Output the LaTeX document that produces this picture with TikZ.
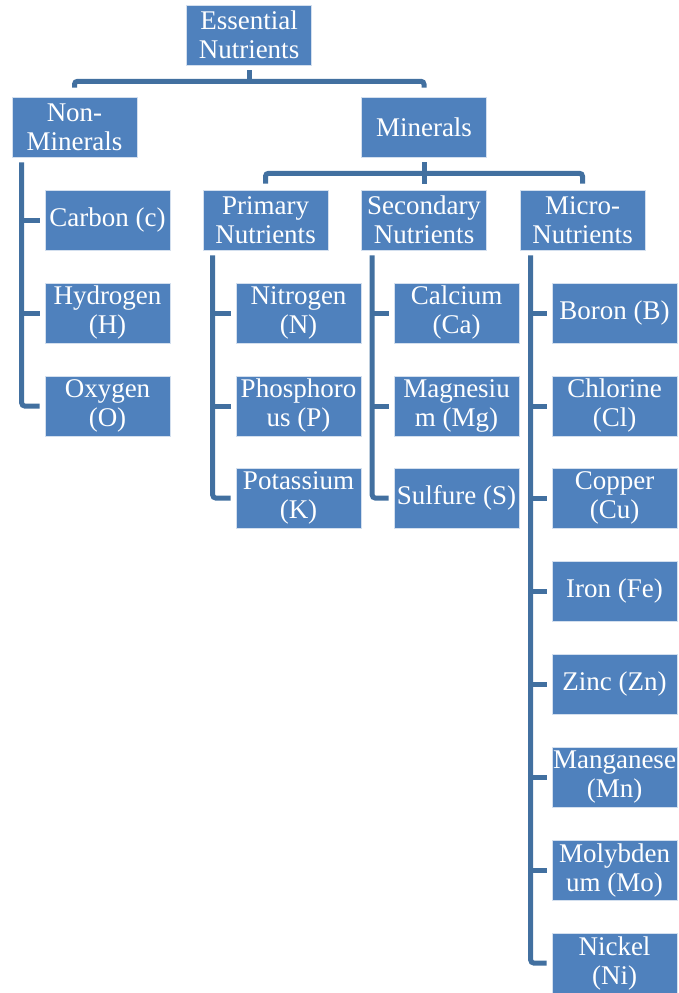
\documentclass[tikz,border=0pt]{standalone}
\usepackage{fontspec}
\setmainfont{Liberation Serif}
\definecolor{boxblue}{RGB}{79,129,189}
\definecolor{lineblue}{RGB}{66,112,160}
\begin{document}
\begin{tikzpicture}[x=1pt, y=-1pt,
		box/.style={rectangle, fill=boxblue, draw=white!75!boxblue, line width=0.6pt,
			minimum width=125pt, minimum height=60pt, inner sep=1pt, align=center,
			text=white, font=\fontsize{27}{29}\selectfont},
		conn/.style={draw=lineblue, line width=5pt, rounded corners=3pt}]
	
	\useasboundingbox (0,0) rectangle (679,993);
	
	% top levels
	\node[box] (ess) at (249,35) {Essential\\Nutrients};
	\node[box] (nonmin) at (74.5,127) {Non-\\Minerals};
	\node[box] (minerals) at (424,127) {Minerals};
	
	\node[box] (primary) at (265.5,220) {Primary\\Nutrients};
	\node[box] (secondary) at (424,220) {Secondary\\Nutrients};
	\node[box] (micro) at (582.5,220) {Micro-\\Nutrients};
	
	% leaves
	\foreach \nm/\yy/\txt in {carbon/220/{Carbon (c)}, hydrogen/313/{Hydrogen\\(H)}, oxygen/406/{Oxygen\\(O)}}
		\node[box] (\nm) at (107.5,\yy) {\txt};
	
	\foreach \nm/\yy/\txt in {nitrogen/313/{Nitrogen\\(N)}, phos/406/{Phosphoro\\us (P)}, potass/498/{Potassium\\(K)}}
		\node[box] (\nm) at (298.5,\yy) {\txt};
	
	\foreach \nm/\yy/\txt in {calcium/313/{Calcium\\(Ca)}, magnes/406/{Magnesiu\\m (Mg)}, sulfur/498/{Sulfure (S)}}
		\node[box] (\nm) at (456.5,\yy) {\txt};
	
	\foreach \nm/\yy/\txt in {boron/313/{Boron (B)}, chlorine/406/{Chlorine\\(Cl)}, copper/498/{Copper\\(Cu)},
		iron/591/{Iron (Fe)}, zinc/684/{Zinc (Zn)}, mangan/777/{Manganese\\(Mn)},
		molyb/870/{Molybden\\um (Mo)}, nickel/963/{Nickel\\(Ni)}}
		\node[box] (\nm) at (614.5,\yy) {\txt};
	
	% connectors between levels
	\draw[conn] ([yshift=-5pt]ess.south) -- ([yshift=-16pt]ess.south);
	\draw[conn] ([yshift=9pt]nonmin.north) |- ([yshift=-16pt]ess.south) -| ([yshift=9pt]minerals.north);
	
	\draw[conn] ([yshift=-5pt]minerals.south) -- ([yshift=6pt]secondary.north);
	\draw[conn] ([yshift=6pt]primary.north) |- ([yshift=-16pt]minerals.south) -| ([yshift=6pt]micro.north);
	
	% branch lines down to the leaves
	\coordinate (nmtop) at ([xshift=10pt,yshift=-5pt]nonmin.south west);
	\coordinate (prtop) at ([xshift=10pt,yshift=-5pt]primary.south west);
	\coordinate (setop) at ([xshift=11pt,yshift=-5pt]secondary.south west);
	\coordinate (mitop) at ([xshift=11pt,yshift=-5pt]micro.south west);
	
	\foreach \nm in {carbon,hydrogen}
		\draw[conn] (nmtop |- \nm.west) -- ([xshift=-5pt]\nm.west);
	\draw[conn] (nmtop) |- ([xshift=-5pt]oxygen.west);
	
	\foreach \nm in {nitrogen,phos}
		\draw[conn] (prtop |- \nm.west) -- ([xshift=-5pt]\nm.west);
	\draw[conn] (prtop) |- ([xshift=-5pt]potass.west);
	
	\foreach \nm in {calcium,magnes}
		\draw[conn] (setop |- \nm.west) -- ([xshift=-5pt]\nm.west);
	\draw[conn] (setop) |- ([xshift=-5pt]sulfur.west);
	
	\foreach \nm in {boron,chlorine,copper,iron,zinc,mangan,molyb}
		\draw[conn] (mitop |- \nm.west) -- ([xshift=-5pt]\nm.west);
	\draw[conn] (mitop) |- ([xshift=-5pt]nickel.west);
	
\end{tikzpicture}
\end{document}
